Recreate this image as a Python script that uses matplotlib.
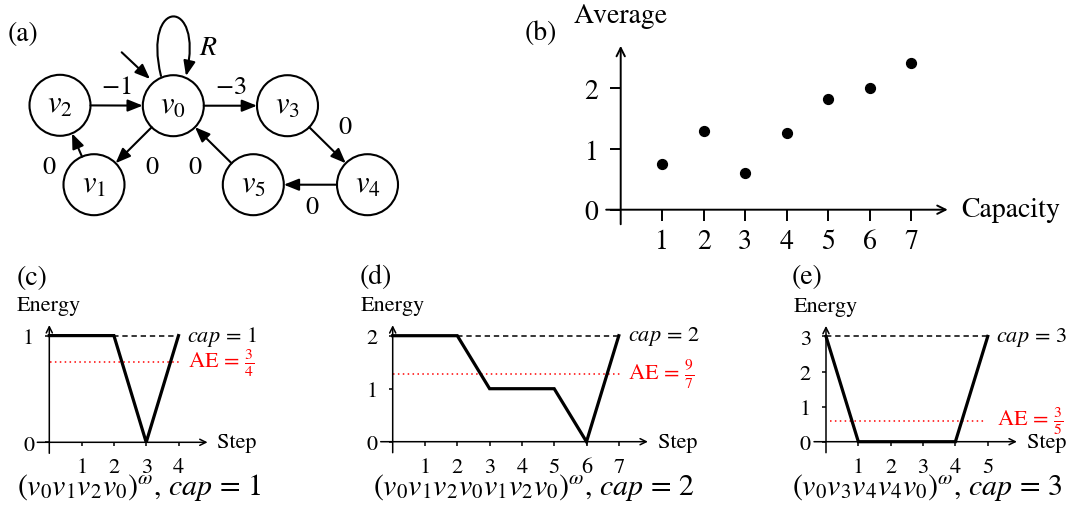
import matplotlib
matplotlib.use('Agg')
import matplotlib.pyplot as plt
from matplotlib.patches import Circle, FancyArrowPatch, ArrowStyle
from matplotlib.path import Path
import numpy as np

plt.rcParams['font.family'] = 'STIXGeneral'
plt.rcParams['mathtext.fontset'] = 'stix'

W, H = 1073, 506

# ---------------- data ----------------
graph_nodes = ['v0', 'v1', 'v2', 'v3', 'v4', 'v5']
graph_edges = [('v2', 'v0'), ('v0', 'v3'), ('v0', 'v1'), ('v1', 'v2'),
               ('v5', 'v0'), ('v3', 'v4'), ('v4', 'v5')]
edge_weights = ['$-1$', '$-3$', '0', '0', '0', '0', '0']
loop_label = 'R'

capacity = [1, 2, 3, 4, 5, 6, 7]
average = [0.75, 1.29, 0.60, 1.26, 1.82, 2.00, 2.42]
b_yticks = [0, 1, 2]

c_steps = [0, 1, 2, 3, 4]
c_energy = [1, 1, 1, 0, 1]
c_cap = 1
c_ae = 3 / 4
c_ae_label = r'$\mathrm{AE}\,=\,\frac{3}{4}$'
c_caption = r'$(v_0v_1v_2v_0)^{\omega}$, $cap\,=\,1$'

d_steps = [0, 1, 2, 3, 4, 5, 6, 7]
d_energy = [2, 2, 2, 1, 1, 1, 0, 2]
d_cap = 2
d_ae = 9 / 7
d_ae_label = r'$\mathrm{AE}\,=\,\frac{9}{7}$'
d_caption = r'$(v_0v_1v_2v_0v_1v_2v_0)^{\omega}$, $cap\,=\,2$'

e_steps = [0, 1, 2, 3, 4, 5]
e_energy = [3, 0, 0, 0, 0, 3]
e_cap = 3
e_ae = 3 / 5
e_ae_label = r'$\mathrm{AE}\,=\,\frac{3}{5}$'
e_caption = r'$(v_0v_3v_4v_4v_0)^{\omega}$, $cap\,=\,3$'

# ---------------- layout (pixels) ----------------
node_pos = {'v0': (173.3, 106.7), 'v1': (94, 185.7), 'v2': (60, 106.3),
            'v3': (287.5, 106.7), 'v4': (367.5, 185.7), 'v5': (253.3, 185.7)}
node_r = 30.5
edge_label_pos = [(116.7, 87.5), (230.8, 87.5), (151.7, 168.3), (49.3, 168.3),
                  (195, 168.3), (345, 128.3), (311.7, 208.3)]

fig = plt.figure(figsize=(W / 100, H / 100), dpi=100)
ov = fig.add_axes([0, 0, 1, 1])
ov.set_xlim(0, W)
ov.set_ylim(H, 0)
ov.axis('off')

# ---------------- (a) graph ----------------
head = ArrowStyle('-|>', head_length=0.6, head_width=0.24)
for n in graph_nodes:
    x, y = node_pos[n]
    ov.add_patch(Circle((x, y), node_r, fill=False, lw=1.5, ec='k'))
    ov.text(x, y, r'$%s_%s$' % (n[0], n[1]), ha='center', va='center', fontsize=22)

for (a, b), w, lp in zip(graph_edges, edge_weights, edge_label_pos):
    xa, ya = node_pos[a]
    xb, yb = node_pos[b]
    d = np.hypot(xb - xa, yb - ya)
    ux, uy = (xb - xa) / d, (yb - ya) / d
    p0 = (xa + ux * node_r, ya + uy * node_r)
    p1 = (xb - ux * node_r, yb - uy * node_r)
    ov.add_patch(FancyArrowPatch(p0, p1, arrowstyle=head, mutation_scale=15,
                                 lw=1.5, color='k', shrinkA=0, shrinkB=0))
    ov.text(lp[0], lp[1], w, ha='center', va='center', fontsize=19)

loop = Path([(161, 77), (142, -2), (204, -2), (186, 77)],
            [Path.MOVETO, Path.CURVE4, Path.CURVE4, Path.CURVE4])
ov.add_patch(FancyArrowPatch(path=loop, arrowstyle=head, mutation_scale=15,
                             lw=1.5, color='k'))
ov.text(208.3, 48.3, r'$%s$' % loop_label, ha='center', va='center', fontsize=20)
ov.add_patch(FancyArrowPatch((121.7, 53.3), (150, 80), arrowstyle=head,
                             mutation_scale=15, lw=1.5, color='k',
                             shrinkA=0, shrinkB=0))
ov.text(8, 34, '(a)', ha='left', va='center', fontsize=20)


# ---------------- helpers ----------------
def make_panel(ox, oy, ux, uy, xlim, ylim):
    ax = fig.add_axes([(ox + xlim[0] * ux) / W, 1 - (oy - ylim[0] * uy) / H,
                       (xlim[1] - xlim[0]) * ux / W, (ylim[1] - ylim[0]) * uy / H])
    ax.set_xlim(*xlim)
    ax.set_ylim(*ylim)
    ax.patch.set_visible(False)
    for s in ax.spines.values():
        s.set_visible(False)
    ax.spines['left'].set_position(('data', 0))
    ax.spines['bottom'].set_position(('data', 0))
    ax.xaxis.set_ticks_position('bottom')
    ax.yaxis.set_ticks_position('left')
    return ax


def axis_arrows(ax, x0, x1, y0, y1, ms, lw=1.1):
    kw = dict(arrowstyle='->', lw=lw, color='k', shrinkA=0, shrinkB=0,
              mutation_scale=ms)
    ax.annotate('', xy=(x1, 0), xytext=(x0, 0), arrowprops=kw,
                annotation_clip=False)
    ax.annotate('', xy=(0, y1), xytext=(0, y0), arrowprops=kw,
                annotation_clip=False)


# ---------------- (b) scatter ----------------
bx = make_panel(620.7, 210.7, 41.5, 60.7, (-0.5, 8.2), (-0.4, 2.8))
axis_arrows(bx, -0.35, 7.88, -0.24, 2.70, 15, lw=1.4)
bx.scatter(capacity, average, s=50, color='k', zorder=3, clip_on=False)
bx.set_xticks(capacity)
bx.set_yticks(b_yticks)
bx.tick_params(axis='x', direction='out', length=8, width=1.4, labelsize=20, pad=6)
bx.tick_params(axis='y', direction='out', length=8, width=1.4, labelsize=20, pad=8)
bx.annotate('Average', xy=(0, 2.70), xytext=(0, 22), textcoords='offset points',
            ha='center', va='center', fontsize=20, annotation_clip=False)
bx.annotate('Capacity', xy=(7.88, 0), xytext=(10, 0), textcoords='offset points',
            ha='left', va='center', fontsize=20, annotation_clip=False)
ov.text(525, 33, '(b)', ha='left', va='center', fontsize=20)


# ---------------- (c)-(e) energy plots ----------------
def energy_panel(ox, oy, ux, uy, steps, energy, cap, ae, ae_label, ae_x0, ae_x1,
                 yticks):
    n = steps[-1]
    ax = make_panel(ox, oy, ux, uy, (-0.6, n + 1.5), (-14 / uy, cap + 14 / uy))
    xend = n + 0.9
    ytop = cap + 10.5 / uy
    axis_arrows(ax, -12 / ux, xend, -11 / uy, ytop, 11)
    ax.plot([0, n], [cap, cap], color='k', lw=1.1, dashes=(3.5, 2.5), zorder=2)
    ax.plot([ae_x0, ae_x1], [ae, ae], color='red', lw=1.1, dashes=(1, 2.2), zorder=2)
    ax.plot(steps, energy, color='k', lw=2.3, zorder=3, clip_on=False,
            solid_joinstyle='miter')
    ax.set_xticks(steps[1:])
    ax.set_yticks(yticks)
    ax.tick_params(axis='both', direction='out', length=3, width=1.1,
                   labelsize=16, pad=8)
    ax.text(n + 0.27, cap, r'$cap\,=\,%d$' % cap, ha='left', va='center', fontsize=16)
    ax.text(n + 0.3, ae, ae_label, ha='left', va='center', fontsize=16, color='red')
    ax.annotate('Step', xy=(xend, 0), xytext=(7, 0), textcoords='offset points',
                ha='left', va='center', fontsize=16, annotation_clip=False)
    ax.annotate('Energy', xy=(0, ytop), xytext=(0, 14.5), textcoords='offset points',
                ha='center', va='center', fontsize=16, annotation_clip=False)
    return ax


energy_panel(49.3, 443.3, 32.3, 106.7, c_steps, c_energy, c_cap, c_ae, c_ae_label,
             0.03, 4.05, [0, 1])
energy_panel(392.7, 442.7, 32.3, 53.0, d_steps, d_energy, d_cap, d_ae, d_ae_label,
             0.0, 7.1, [0, 1, 2])
energy_panel(826.0, 442.7, 32.35, 35.1, e_steps, e_energy, e_cap, e_ae, e_ae_label,
             0.12, 4.9, [0, 1, 2, 3])

ov.text(17, 278, '(c)', ha='left', va='center', fontsize=20)
ov.text(360, 277, '(d)', ha='left', va='center', fontsize=20)
ov.text(792, 277, '(e)', ha='left', va='center', fontsize=20)

ov.text(17, 488, c_caption, ha='left', va='center', fontsize=21.5)
ov.text(373, 488, d_caption, ha='left', va='center', fontsize=21.5)
ov.text(792, 488, e_caption, ha='left', va='center', fontsize=21.5)

fig.savefig('out.png', dpi=100)
